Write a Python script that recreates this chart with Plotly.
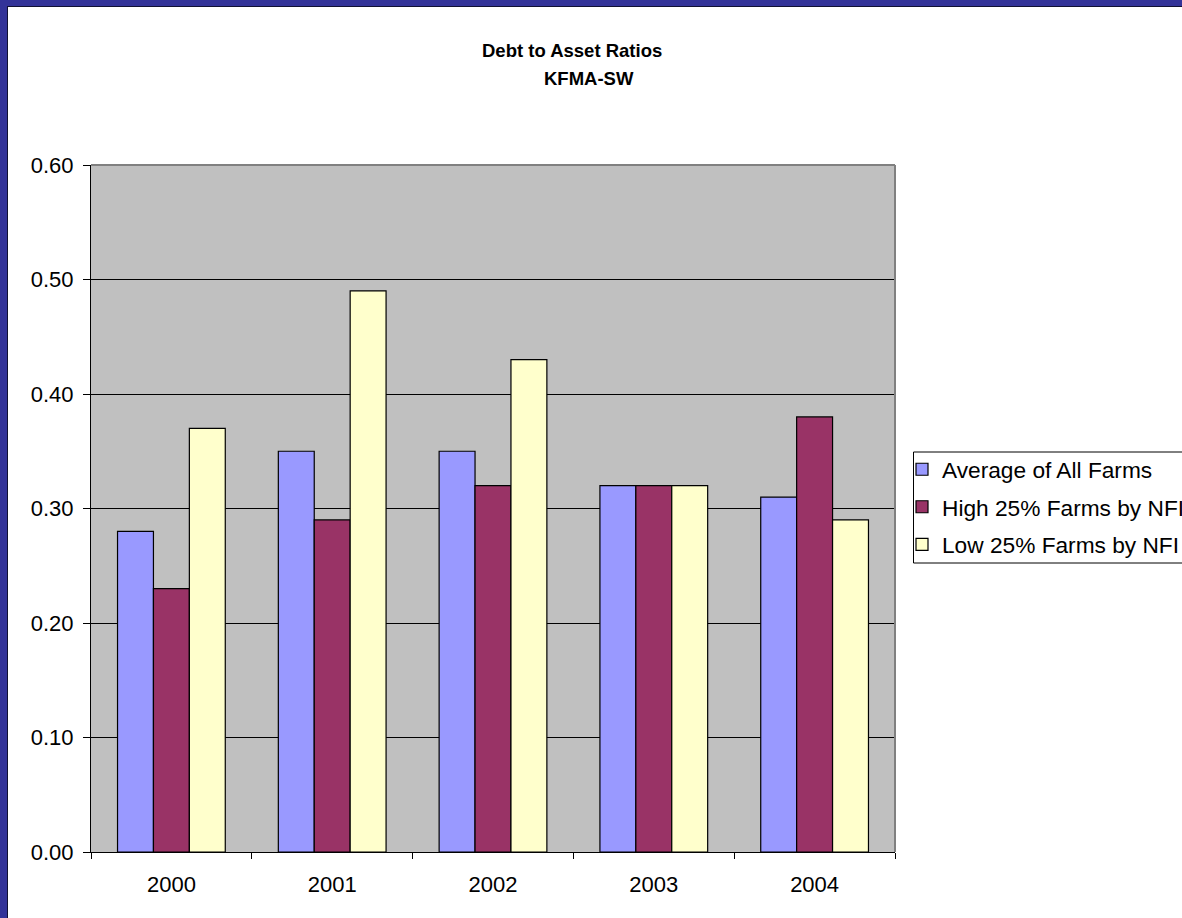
import plotly.graph_objects as go

years = ["2000", "2001", "2002", "2003", "2004"]
avg_all = [0.28, 0.35, 0.35, 0.32, 0.31]
high_25 = [0.23, 0.29, 0.32, 0.32, 0.38]
low_25 = [0.37, 0.49, 0.43, 0.32, 0.29]
series_names = ["Average of All Farms", "High 25% Farms by NFI", "Low 25% Farms by NFI"]
y_ticks = [0.0, 0.1, 0.2, 0.3, 0.4, 0.5, 0.6]
y_tick_text = ["0.00", "0.10", "0.20", "0.30", "0.40", "0.50", "0.60"]

W, H = 1182, 918
L, R, T, B = 91, 895, 165, 852
PW, PH = R - L, B - T


def px(x):
    return (x - L) / PW


def py(y):
    return (B - y) / PH


FONT = "Liberation Sans, Arial, sans-serif"
colors = ["#9999FF", "#993366", "#FFFFCC"]

fig = go.Figure()
for i, (name, vals) in enumerate(zip(series_names, [avg_all, high_25, low_25])):
    fig.add_trace(go.Bar(
        x=years, y=vals, name=name, legendgroup=f"g{i}",
        marker=dict(color=colors[i], line=dict(color="black", width=1.2)),
    ))

shapes = [
    # plot border top/right gray
    dict(type="line", xref="paper", yref="paper", x0=0, x1=1, y0=1, y1=1,
         line=dict(color="#808080", width=2)),
    dict(type="line", xref="paper", yref="paper", x0=1, x1=1, y0=0, y1=1,
         line=dict(color="#808080", width=2)),
    # legend box
    dict(type="rect", xref="paper", yref="paper", x0=px(913.5), x1=px(W + 20),
         y0=py(563), y1=py(452), fillcolor="white", line=dict(color="black", width=1)),
    # outer blue frame (top & left)
    dict(type="rect", xref="paper", yref="paper", x0=px(0), x1=px(W + 5),
         y0=py(6), y1=py(-5), fillcolor="#333399", line=dict(width=0)),
    dict(type="rect", xref="paper", yref="paper", x0=px(-5), x1=px(7),
         y0=py(H + 5), y1=py(0), fillcolor="#333399", line=dict(width=0)),
    dict(type="line", xref="paper", yref="paper", x0=px(7), x1=px(W + 5),
         y0=py(6.5), y1=py(6.5), line=dict(color="#111133", width=1)),
    dict(type="line", xref="paper", yref="paper", x0=px(7.5), x1=px(7.5),
         y0=py(6), y1=py(H + 5), line=dict(color="#111133", width=1)),
]

annotations = [
    dict(text="<b>Debt to Asset Ratios</b>", xref="paper", yref="paper",
         x=px(572), y=py(50), xanchor="center", yanchor="middle", showarrow=False,
         font=dict(family=FONT, size=18.5, color="black")),
    dict(text="<b>KFMA-SW</b>", xref="paper", yref="paper",
         x=px(589), y=py(78), xanchor="center", yanchor="middle", showarrow=False,
         font=dict(family=FONT, size=18.5, color="black")),
]

fig.update_layout(
    width=W, height=H, autosize=False,
    margin=dict(l=L, r=W - R, t=T, b=H - B, autoexpand=False),
    paper_bgcolor="white", plot_bgcolor="#C0C0C0",
    barmode="group", bargap=0.33, bargroupgap=0,
    font=dict(family=FONT, size=22, color="black"),
    shapes=shapes, annotations=annotations,
    showlegend=True,
    legend=dict(x=px(902), y=py(448), xanchor="left", yanchor="top",
                bgcolor="rgba(0,0,0,0)", borderwidth=0,
                font=dict(family=FONT, size=22.7, color="black"),
                tracegroupgap=5, traceorder="grouped",
                itemwidth=30),
    xaxis=dict(type="category", showgrid=False, showline=True, linecolor="black",
               linewidth=1, ticks="outside", tickson="boundaries", ticklen=6,
               tickcolor="black", ticklabelstandoff=13,
               tickfont=dict(family=FONT, size=22, color="black"), fixedrange=True),
    yaxis=dict(range=[0, 0.6], tickvals=y_ticks, ticktext=y_tick_text,
               showgrid=True, gridcolor="black", gridwidth=1,
               showline=True, linecolor="black", linewidth=1, zeroline=False,
               ticks="outside", ticklen=7, tickcolor="black", ticklabelstandoff=5,
               tickfont=dict(family=FONT, size=22, color="black"), fixedrange=True),
)

fig.write_html("out.html", config={"displayModeBar": False},
               post_script="document.body.style.margin='0px';")
